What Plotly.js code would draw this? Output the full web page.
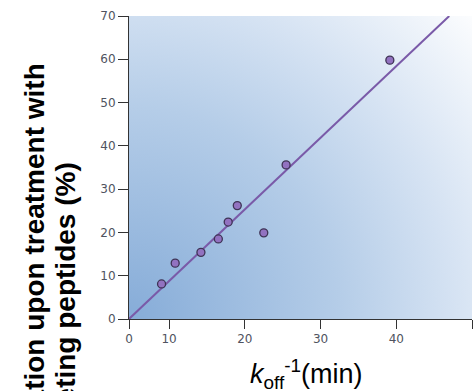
<!DOCTYPE html>
<html>
<head>
<meta charset="utf-8">
<script src="https://cdn.plot.ly/plotly-3.0.1.min.js"></script>
<style>html,body{margin:0;padding:0;background:#fff;}#chart{width:476px;height:391px;}</style>
</head>
<body>
<div id="chart"></div>
<script>
// Data
const koffInv = [9.0, 10.8, 14.2, 16.5, 17.8, 19.0, 22.5, 25.45, 39.15];
const inhibition = [8.1, 12.9, 15.4, 18.5, 22.4, 26.2, 19.9, 35.6, 59.8];
const fitX = [4.7, 47.0];
const fitY = [0, 70];
const xTickVals = [4.7, 10, 20, 30, 40, 50];
const xTickText = ["0", "10", "20", "30", "40", "50"];
const yTickVals = [0, 10, 20, 30, 40, 50, 60, 70];
const yTickText = ["0", "10", "20", "30", "40", "50", "60", "70"];
const yTitleLines = ["Inhibition of T cell activation upon treatment with", "competing peptides (%)"];
const xTitle = '<i>k</i><sub>off</sub><sup>-1</sup>(min)';

// gradient background image
function makeGradient() {
  const c = document.createElement('canvas');
  c.width = 343; c.height = 303;
  const ctx = c.getContext('2d');
  const g = ctx.createRadialGradient(0, 303, 0, 0, 303, 470);
  g.addColorStop(0, '#86acd8');
  g.addColorStop(0.45, '#b5cde8');
  g.addColorStop(0.7, '#d6e3f3');
  g.addColorStop(1, '#ffffff');
  ctx.fillStyle = g;
  ctx.fillRect(0, 0, 343, 303);
  return c.toDataURL('image/png');
}

const traces = [
  {
    x: fitX, y: fitY, type: 'scatter', mode: 'lines',
    line: {color: '#7a5aa8', width: 2}, hoverinfo: 'skip', showlegend: false
  },
  {
    x: koffInv, y: inhibition, type: 'scatter', mode: 'markers',
    marker: {size: 8, color: '#9272c0', line: {color: '#3e3355', width: 1.3}},
    showlegend: false
  }
];

const tickFont = {family: 'DejaVu Sans', size: 12, color: '#4f5360'};
const titleFont = {family: 'Liberation Sans, Arial', size: 28, color: '#000', weight: 'bold'};
const layout = {
  width: 476, height: 391,
  margin: {l: 129, r: 4, t: 16, b: 72},
  paper_bgcolor: '#ffffff',
  plot_bgcolor: 'rgba(0,0,0,0)',
  showlegend: false,
  xaxis: {
    range: [4.7, 50], tickvals: xTickVals, ticktext: xTickText,
    ticks: 'outside', ticklen: 9, tickwidth: 1, tickcolor: '#333',
    showline: true, linecolor: '#333', linewidth: 1,
    showgrid: false, zeroline: false, tickfont: tickFont
  },
  yaxis: {
    range: [0, 70], tickvals: yTickVals, ticktext: yTickText,
    ticks: 'outside', ticklen: 10, tickwidth: 1, tickcolor: '#333',
    showline: true, linecolor: '#333', linewidth: 1,
    showgrid: false, zeroline: false, tickfont: tickFont
  },
  images: [{
    source: makeGradient(), xref: 'paper', yref: 'paper',
    x: 0, y: 1, sizex: 1, sizey: 1, sizing: 'stretch', layer: 'below',
    xanchor: 'left', yanchor: 'top'
  }],
  annotations: [
    {
      text: yTitleLines[0],
      xref: 'paper', yref: 'paper', x: -0.274, y: 0.848,
      xanchor: 'center', yanchor: 'top', textangle: -90, showarrow: false,
      font: titleFont
    },
    {
      text: yTitleLines[1],
      xref: 'paper', yref: 'paper', x: -0.187, y: 0.524,
      xanchor: 'center', yanchor: 'top', textangle: -90, showarrow: false,
      font: titleFont
    },
    {
      text: xTitle,
      xref: 'paper', yref: 'paper', x: 0.517, y: -0.113,
      xanchor: 'center', yanchor: 'top', showarrow: false,
      font: {family: 'Liberation Sans, Arial', size: 27, color: '#000'}
    }
  ]
};

Plotly.newPlot('chart', traces, layout, {displayModeBar: false, staticPlot: true});
</script>
</body>
</html>
